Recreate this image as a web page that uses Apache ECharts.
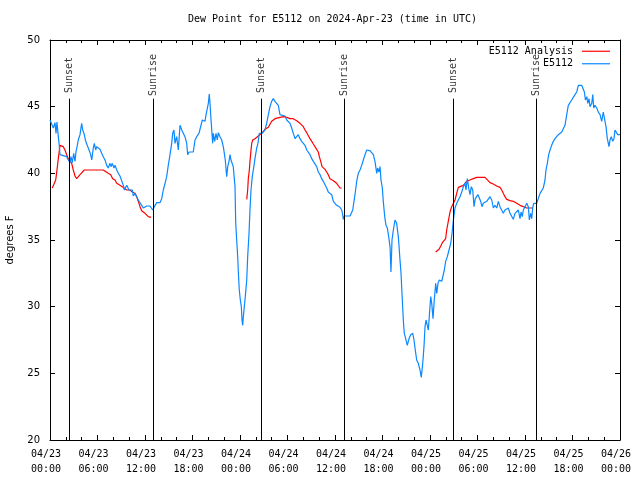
<!DOCTYPE html>
<html>
<head>
<meta charset="utf-8">
<script src="https://cdn.jsdelivr.net/npm/echarts@6/dist/echarts.min.js"></script>
<style>html,body{margin:0;padding:0;background:#fff;}#chart{width:640px;height:480px;}</style>
</head>
<body>
<div id="chart"></div>
<script>
// Times are hours since 2024-04-23 00:00 UTC
const titleText = 'Dew Point for E5112 on 2024-Apr-23 (time in UTC)';
const yTicks = [20, 25, 30, 35, 40, 45, 50];
const xTickHours = [0, 6, 12, 18, 24, 30, 36, 42, 48, 54, 60, 66, 72];

const sunHours = [2.44, 13.05, 26.69, 37.18, 50.95, 61.43];
const sunLabels = ['Sunset', 'Sunrise', 'Sunset', 'Sunrise', 'Sunset', 'Sunrise'];

const e5112Obs = [
[0,44.0],[0.21,43.9],[0.42,43.4],[0.63,43.8],[0.76,43.0],[0.88,43.85],[1.05,42.75],[1.17,42.1],[1.26,41.4],[1.48,41.25],[2.11,41.25],[2.31,41.0],[2.53,40.8],[2.65,41.25],[2.82,40.8],[2.99,41.5],[3.16,40.9],[3.28,41.6],[3.45,42.1],[3.57,42.5],[3.79,42.9],[4.00,43.75],[4.13,43.25],[4.29,43.0],[4.51,42.4],[4.71,42.25],[4.93,41.75],[5.14,41.4],[5.27,41.0],[5.47,41.9],[5.60,42.25],[5.77,41.75],[5.90,42.0],[6.10,41.9],[6.32,41.8],[6.53,41.5],[6.73,41.25],[6.95,41.0],[7.16,40.6],[7.36,40.4],[7.58,40.75],[7.71,40.5],[7.87,40.75],[8.08,40.4],[8.21,40.6],[8.43,40.25],[8.63,40.0],[8.84,39.8],[9.06,39.7],[9.26,39.1],[9.39,38.75],[9.56,38.9],[9.69,39.1],[9.81,39.25],[9.98,38.75],[10.19,38.6],[10.40,38.75],[10.52,38.3],[10.74,38.5],[10.95,38.25],[11.15,38.0],[11.37,38.0],[11.58,37.6],[11.79,37.4],[12.00,37.5],[12.21,37.55],[12.63,37.55],[12.85,37.45],[12.97,37.25],[13.18,37.5],[13.48,37.8],[13.89,37.8],[14.11,38.1],[14.31,38.75],[14.53,39.25],[14.74,39.75],[14.94,40.6],[15.16,41.4],[15.37,42.25],[15.50,43.0],[15.66,43.25],[15.79,42.25],[16.00,42.75],[16.21,41.75],[16.42,43.6],[16.64,43.25],[16.84,43.1],[17.05,42.75],[17.27,42.25],[17.39,41.4],[17.56,41.6],[18.10,41.6],[18.32,42.5],[18.53,42.75],[18.82,43.0],[18.99,43.4],[19.24,44.0],[19.49,44.1],
[19.58,43.9],[19.71,44.4],[19.87,44.5],[20.00,45.25],[20.12,45.95],[20.21,45.25],[20.34,44.0],[20.46,43.0],[20.55,42.25],[20.63,43.0],[20.80,42.4],[20.97,43.0],[21.13,42.5],[21.26,43.05],[21.47,42.75],[21.69,42.5],[21.89,42.0],[22.02,41.5],[22.14,41.0],[22.32,39.75],[22.45,40.5],[22.61,40.9],[22.74,41.4],[22.86,41.0],[23.03,41.1],[23.15,40.5],[23.28,39.6],[23.37,39.0],[23.46,36.25],[23.58,35.0],[23.71,33.75],[23.79,32.6],[23.91,31.25],[24.04,30.5],[24.17,30.0],[24.25,29.0],[24.34,28.6],[24.42,29.25],[24.54,30.0],[24.67,30.75],[24.85,32.0],[24.97,33.75],[25.14,35.5],[25.26,37.25],[25.39,38.75],[25.55,39.75],[25.77,40.6],[25.93,41.25],[26.11,41.9],[26.27,42.25],[26.44,43.0],[26.62,42.9],[26.78,43.0],[26.94,42.9],[27.16,43.25],[27.37,43.75],[27.58,44.4],[27.79,45.0],[28.00,45.4],[28.21,45.6],[28.42,45.4],[28.64,45.4],[28.84,45.1],[29.05,44.4],[29.27,44.3],[29.68,44.3],[29.90,44.0],[30.10,44.1],[30.32,43.75],[30.53,43.4],[30.73,43.0],[30.95,42.6],[31.16,42.75],[31.36,42.9],[31.58,42.6],[31.79,42.4],[32.00,42.25],[32.21,42.1],[32.43,41.75],[32.63,41.6],[32.84,41.4],[33.06,41.1],[33.26,40.9],[33.47,41.0],[33.69,40.5],[33.89,40.1],[34.11,39.9],[34.32,39.6],[34.52,39.4],[34.74,39.25],[34.95,38.9],[35.15,38.6],[35.37,38.75],[35.58,38.4],[35.79,37.9],[36.00,37.8],[36.21,37.6],[36.42,37.5],[36.63,37.45],[36.85,37.25],[36.97,36.9],[37.05,36.55],[37.18,36.8],[37.48,36.8],[37.90,36.8],
[38.11,36.8],[38.24,37.25],[38.40,37.9],[38.57,38.6],[38.74,39.4],[38.94,40.0],[39.16,40.25],[39.37,40.6],[39.58,41.0],[39.79,41.4],[40.01,41.75],[40.21,41.75],[40.42,41.7],[40.64,41.55],[40.84,41.4],[41.05,40.9],[41.27,40.0],[41.39,40.4],[41.56,40.1],[41.69,40.5],[41.81,39.5],[41.98,38.9],[42.10,37.9],[42.28,36.75],[42.44,36.1],[42.61,35.9],[42.78,35.25],[42.95,34.5],[43.07,32.6],[43.20,35.0],[43.37,35.75],[43.58,36.5],[43.79,36.25],[44.00,35.25],[44.21,33.5],[44.34,32.5],[44.46,31.0],[44.63,29.0],[44.75,28.0],[44.93,27.6],[45.13,27.1],[45.35,27.6],[45.56,27.9],[45.82,28.0],[45.98,27.5],[46.14,26.75],[46.32,26.0],[46.52,25.75],[46.74,25.25],[46.90,24.7],[47.08,25.75],[47.24,27.0],[47.37,28.5],[47.50,29.0],[47.66,28.6],[47.79,28.25],[47.91,29.25],[48.09,30.75],[48.22,30.25],[48.38,29.1],[48.54,30.5],[48.72,31.75],[48.85,31.0],[49.01,31.75],[49.18,32.0],[49.48,31.9],[49.68,31.75],[49.81,32.75],[49.98,33.4],[50.19,33.75],[50.40,34.25],[50.62,34.75],[50.78,35.5],[50.95,36.5],[51.16,37.4],[51.37,37.75],[51.58,38.0],[51.79,38.25],[52.01,38.6],[52.21,39.0],[52.42,39.25],[52.55,38.75],[52.71,39.6],[52.89,38.9],[53.05,38.4],[53.22,39.0],[53.40,38.75],[53.56,37.5],[53.72,38.1],[53.90,38.25],[54.06,38.4],[54.23,38.55],[54.40,37.9],[54.57,37.5],[54.73,37.75],[54.95,37.6],[55.16,37.9],[55.37,38.0],[55.58,38.25],[55.80,38.0],[56.00,37.4],[56.21,37.6],[56.43,37.4],[56.63,37.9],[56.84,37.5],[57.06,37.55],[57.26,37.0],[57.47,37.25],[57.69,37.2],[57.89,37.4],[58.11,37.0],[58.32,37.1],[58.52,36.55],[58.74,37.0],[58.95,37.1],[59.15,37.25],[59.37,36.6],[59.50,37.1],[59.66,36.75],[59.79,37.25],[60.00,37.1],[60.22,37.75],[60.42,37.5],[60.55,36.5],[60.72,37.0],[60.85,36.6],[60.97,37.4],[61.10,37.75],[61.48,37.75],[61.68,38.1],[61.90,38.5],[62.11,38.6],[62.31,38.9],[62.53,39.5],[62.65,40.25],[62.82,40.75],[62.99,41.4],[63.16,41.75],[63.37,42.1],[63.58,42.4],[63.79,42.6],[64.01,42.7],[64.21,42.9],[64.42,43.0],[64.64,43.1],[64.84,43.0],[65.05,43.6],[65.27,44.4],[65.47,45.1],[65.69,45.3],[65.90,45.5],[66.10,45.7],[66.32,45.9],[66.53,46.1],[66.74,46.6],[66.95,46.7],[67.16,46.6],[67.37,46.5],[67.50,46.1],[67.63,45.5],[67.81,45.75],[67.93,45.25],[68.09,45.6],[68.21,45.0],[68.43,45.25],[68.56,45.9],[68.68,44.9],[68.84,45.1],[69.06,44.9],[69.26,44.6],[69.48,44.4],[69.69,43.9],[69.89,44.6],[70.11,44.75],[70.23,43.5],[70.40,42.6],[70.61,42.0],[70.74,42.5],[70.90,42.75],[71.08,42.4],[71.24,42.6],[71.37,43.25],[71.58,43.4],[71.71,42.9],[72.00,42.9]
];

const analysisSeg1 = [
[0.29,38.9],[0.54,38.9],[0.72,39.5],[0.88,40.25],[1.05,41.1],[1.26,42.1],[1.48,42.2],[1.68,42.0],[1.89,41.75],[2.11,41.4],[2.31,41.1],[2.53,41.1],[2.74,40.75],[2.94,40.25],[3.16,39.8],[3.37,39.6],[3.57,39.6],[3.79,39.9],[4.00,40.05],[4.33,40.25],[6.73,40.25],[6.95,40.1],[7.36,40.0],[7.67,39.9],[7.92,39.6],[8.21,39.5],[8.43,39.25],[8.84,39.1],[9.13,39.0],[9.35,38.9],[9.69,38.75],[10.11,38.75],[10.40,38.6],[10.74,38.5],[10.95,38.25],[11.15,37.9],[11.37,37.5],[11.58,37.2],[11.79,37.1],[12.00,37.0],[12.21,36.9],[12.42,36.75],[12.76,36.7]
];
const analysisSeg2 = [
[24.85,38.05],[24.97,38.75],[25.05,39.6],[25.18,40.25],[25.26,40.9],[25.35,41.5],[25.48,42.25],[25.61,42.5],[25.90,42.6],[26.11,42.7],[26.31,42.8],[26.53,42.95],[26.74,43.0],[26.94,43.1],[27.16,43.3],[27.37,43.45],[27.58,43.45],[27.79,43.6],[28.00,43.9],[28.21,44.0],[28.42,44.1],[28.64,44.15],[29.05,44.2],[29.47,44.25],[29.90,44.2],[30.32,44.1],[30.73,44.1],[31.16,43.95],[31.58,43.75],[31.79,43.7],[32.00,43.5],[32.21,43.25],[32.43,43.05],[32.63,42.9],[32.84,42.6],[33.06,42.4],[33.26,42.2],[33.47,42.0],[33.69,41.95],[33.89,41.6],[34.02,41.25],[34.20,40.9],[34.36,40.5],[34.52,40.4],[34.74,40.3],[34.95,40.1],[35.15,39.9],[35.37,39.6],[35.58,39.5],[35.79,39.45],[36.00,39.4],[36.21,39.25],[36.42,39.1],[36.63,38.9],[36.85,38.9]
];
const analysisSeg3 = [
[48.72,34.1],[48.93,34.1],[49.14,34.3],[49.36,34.55],[49.56,34.8],[49.81,34.9],[49.98,35.1],[50.11,35.75],[50.31,36.4],[50.53,37.1],[50.74,37.5],[50.95,37.6],[51.16,38.0],[51.37,38.5],[51.58,38.95],[51.79,39.0],[52.21,39.1],[52.42,39.25],[52.63,39.4],[53.05,39.5],[53.47,39.6],[53.90,39.7],[54.95,39.7],[55.16,39.55],[55.58,39.3],[56.00,39.2],[56.43,39.05],[56.84,38.95],[57.06,38.75],[57.26,38.5],[57.47,38.25],[57.69,38.05],[58.11,37.95],[58.52,37.9],[58.95,37.75],[59.37,37.6],[59.79,37.5],[60.22,37.4],[60.97,37.4]
];

const MONO = '"DejaVu Sans Mono", "Liberation Mono", monospace';
const SANS = '"DejaVu Sans", sans-serif';
const SUN_LINE_TOP = 45.6;   // where the vertical sun lines stop
const SUN_LABEL_Y = 47.3;    // centre of the rotated sun labels
const RED = '#ff0000';
const BLUE = '#0a88ff';

function pad(n) { return (n < 10 ? '0' : '') + n; }
function fmtTime(v) {
  const day = 23 + Math.floor(v / 24);
  const hh = Math.round(v % 24);
  return '04/' + pad(day) + '\n' + pad(hh) + ':00';
}

const analysisData = analysisSeg1.concat([[18, null]], analysisSeg2, [[42, null]], analysisSeg3);

const chart = echarts.init(document.getElementById('chart'), null, { renderer: 'canvas' });

const baseX = {
  type: 'value', min: 0, max: 72, interval: 6,
  axisLine: { show: true, onZero: false, lineStyle: { color: '#000', width: 1 } },
  axisTick: { show: true, inside: true, length: 5, lineStyle: { color: '#000' } },
  minorTick: { show: true, splitNumber: 3, length: 3, lineStyle: { color: '#000' } },
  splitLine: { show: false }
};
const baseY = {
  type: 'value', min: 20, max: 50, interval: 5,
  axisLine: { show: true, onZero: false, lineStyle: { color: '#000', width: 1 } },
  axisTick: { show: true, inside: true, length: 5, lineStyle: { color: '#000' } },
  splitLine: { show: false }
};

chart.setOption({
  animation: false,
  backgroundColor: '#fff',
  title: {
    text: titleText, left: 188, top: 14, padding: 0,
    textStyle: { fontFamily: MONO, fontSize: 10, fontWeight: 'normal', color: '#000' }
  },
  legend: {
    data: [
      { name: 'E5112 Analysis', icon: 'rect', itemStyle: { color: RED } },
      { name: 'E5112', icon: 'rect', itemStyle: { color: BLUE } }
    ],
    orient: 'vertical', align: 'right', right: 30, top: 45, padding: 0,
    itemWidth: 28, itemHeight: 1.2, itemGap: 0,
    textStyle: { fontFamily: MONO, fontSize: 10, color: '#000', lineHeight: 12.5, padding: [0, 4, 0, 0] },
    selectedMode: false
  },
  grid: { left: 50, right: 20, top: 40, bottom: 40, containLabel: false, outerBoundsMode: 'none' },
  xAxis: [
    Object.assign({}, baseX, {
      position: 'bottom',
      axisLabel: { show: true, margin: 7, formatter: fmtTime, fontFamily: MONO, fontSize: 10, color: '#000', lineHeight: 15, padding: [0, 8, 0, 0] }
    }),
    Object.assign({}, baseX, { position: 'top', axisLabel: { show: false } })
  ],
  yAxis: [
    Object.assign({}, baseY, {
      position: 'left',
      name: 'degrees F', nameLocation: 'middle', nameGap: 35, nameRotate: 90,
      nameTextStyle: { fontFamily: SANS, fontSize: 10, color: '#000' },
      axisLabel: { show: true, margin: 10, fontFamily: SANS, fontSize: 10, color: '#000' }
    }),
    Object.assign({}, baseY, { position: 'right', axisLabel: { show: false } })
  ],
  series: [
    {
      name: 'E5112 Analysis', type: 'line', data: analysisData,
      xAxisIndex: 0, yAxisIndex: 0,
      showSymbol: false, symbol: 'none', connectNulls: false,
      lineStyle: { color: RED, width: 1.2 }, itemStyle: { color: RED },
      z: 3
    },
    {
      name: 'E5112', type: 'line', data: e5112Obs,
      xAxisIndex: 0, yAxisIndex: 0,
      showSymbol: false, symbol: 'none',
      lineStyle: { color: BLUE, width: 1.2 }, itemStyle: { color: BLUE },
      z: 4
    },
    {
      name: 'sun', type: 'scatter', symbolSize: 0,
      xAxisIndex: 0, yAxisIndex: 0,
      data: sunHours.map(h => [h, SUN_LABEL_Y]),
      label: {
        show: true, position: 'inside', rotate: 90, offset: [1, 0],
        formatter: p => sunLabels[p.dataIndex],
        fontFamily: MONO, fontSize: 10, color: '#000', align: 'center', verticalAlign: 'middle'
      },
      silent: true,
      markLine: {
        silent: true, symbol: ['none', 'none'], animation: false,
        label: { show: false },
        lineStyle: { color: '#000', width: 1, type: 'solid' },
        data: sunHours.map(h => [{ coord: [h, 20] }, { coord: [h, SUN_LINE_TOP] }])
      },
      z: 2
    }
  ]
});
</script>
</body>
</html>
